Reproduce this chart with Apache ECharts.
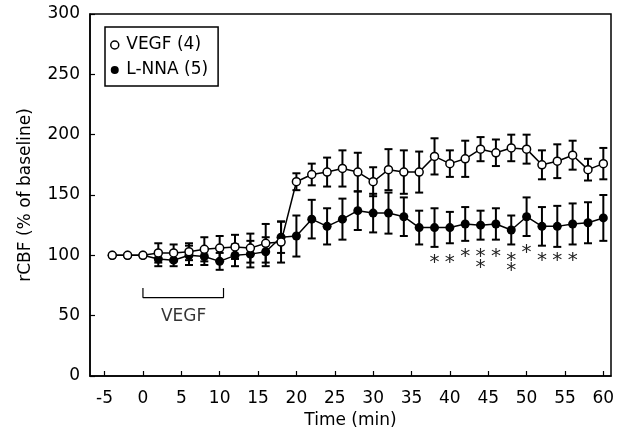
<!DOCTYPE html>
<html>
<head>
<meta charset="utf-8">
<script src="https://cdn.jsdelivr.net/npm/echarts@6/dist/echarts.min.js"></script>
<style>
  html, body { margin: 0; padding: 0; background: #fff; }
  #main { width: 624px; height: 440px; }
</style>
</head>
<body>
<div id="main"></div>
<script>
// time points (min)
const time = [-4, -2, 0, 2, 4, 6, 8, 10, 12, 14, 16, 18, 20, 22, 24, 26, 28, 30, 32, 34, 36, 38, 40, 42, 44, 46, 48, 50, 52, 54, 56, 58, 60];
// VEGF (4) - open circles
const vegfMean = [100, 100, 100, 102, 102, 103, 105, 106, 107, 106, 110, 111, 161, 167, 169, 172, 169, 161, 171, 169, 169, 182, 176, 180, 188, 185, 189, 188, 175, 178, 183, 171, 176];
const vegfErr  = [0, 0, 0, 8, 7, 7, 10, 10, 10, 12, 16, 17, 7, 9, 12, 15, 16, 12, 17, 18, 17, 15, 11, 15, 10, 11, 11, 12, 12, 14, 12, 9, 13];
// L-NNA (5) - filled circles
const nnaMean = [100, 100, 100, 97, 96, 100, 99, 95, 100, 101, 103, 115, 116, 130, 124, 130, 137, 135, 135, 132, 123, 123, 123, 126, 125, 126, 121, 132, 124, 124, 126, 127, 131];
const nnaErr  = [0, 0, 0, 6, 5, 8, 7, 7, 9, 11, 12, 13, 17, 16, 15, 17, 16, 16, 17, 16, 14, 16, 13, 14, 12, 13, 12, 16, 16, 17, 17, 17, 19];
// significance marks (time, level)
const starX = [38, 40, 42, 44, 44, 46, 48, 48, 50, 52, 54, 56];
const starY = [98, 98, 103, 103, 94, 103, 100, 91, 106, 100, 100, 100];
// VEGF infusion bracket
const bracketX = [0, 0, 10.5, 10.5];
const bracketY = [73, 65, 65, 73];

const xTicks = [-5, 0, 5, 10, 15, 20, 25, 30, 35, 40, 45, 50, 55, 60];
const FONT = 'DejaVu Sans';

const chart = echarts.init(document.getElementById('main'));

function errBars(mean, err) {
  return time.map((t, i) => [t, mean[i], err[i]]);
}

function renderErr(params, api) {
  const x = api.value(0), m = api.value(1), e = api.value(2);
  if (!e) return;
  const top = api.coord([x, m + e]);
  const bot = api.coord([x, m - e]);
  const w = 4;
  const st = { stroke: '#000', lineWidth: 2 };
  return {
    type: 'group',
    children: [
      { type: 'line', shape: { x1: top[0], y1: top[1], x2: bot[0], y2: bot[1] }, style: st },
      { type: 'line', shape: { x1: top[0] - w, y1: top[1], x2: top[0] + w, y2: top[1] }, style: st },
      { type: 'line', shape: { x1: bot[0] - w, y1: bot[1], x2: bot[0] + w, y2: bot[1] }, style: st }
    ]
  };
}

const option = {
  animation: false,
  textStyle: { fontFamily: FONT },
  grid: { left: 90, right: 13, top: 14, bottom: 64, show: true, borderColor: '#000', borderWidth: 1.5 },
  legend: {
    left: 105, top: 27,
    orient: 'vertical',
    borderColor: '#000', borderWidth: 1.5,
    padding: [9, 10, 7, 5],
    itemGap: 7,
    itemWidth: 13, itemHeight: 8,
    icon: 'circle',
    textStyle: { fontFamily: FONT, fontSize: 17, color: '#000', lineHeight: 18 },
    data: [
      { name: 'VEGF (4)', itemStyle: { color: '#fff', borderColor: '#000', borderWidth: 1.5 } },
      { name: 'L-NNA (5)', itemStyle: { color: '#000' } }
    ]
  },
  xAxis: {
    type: 'value', min: -6.9, max: 61,
    name: 'Time (min)', nameLocation: 'middle', nameGap: 36,
    nameTextStyle: { fontFamily: FONT, fontSize: 17, color: '#000' },
    axisLine: { onZero: false, lineStyle: { color: '#000', width: 1.5 } },
    axisTick: { inside: true, length: 5, customValues: xTicks, lineStyle: { color: '#000', width: 1.2 } },
    axisLabel: { customValues: xTicks, margin: 14, fontFamily: FONT, fontSize: 17, color: '#000' },
    splitLine: { show: false }
  },
  yAxis: {
    type: 'value', min: 0, max: 300, interval: 50,
    name: 'rCBF (% of baseline)', nameLocation: 'middle', nameGap: 56,
    nameTextStyle: { fontFamily: FONT, fontSize: 17, color: '#000' },
    axisLine: { show: true, onZero: false, lineStyle: { color: '#000', width: 1.5 } },
    axisTick: { show: true, inside: true, length: 5, lineStyle: { color: '#000', width: 1.2 } },
    axisLabel: { margin: 10, fontFamily: FONT, fontSize: 17, color: '#000' },
    splitLine: { show: false }
  },
  series: [
    {
      type: 'custom', name: 'nnaErr', z: 1, silent: true,
      renderItem: renderErr, data: errBars(nnaMean, nnaErr)
    },
    {
      type: 'custom', name: 'vegfErr', z: 1, silent: true,
      renderItem: renderErr, data: errBars(vegfMean, vegfErr)
    },
    {
      type: 'line', name: 'L-NNA (5)', z: 3,
      data: time.map((t, i) => [t, nnaMean[i]]),
      symbol: 'circle', symbolSize: 9,
      lineStyle: { color: '#000', width: 1.5 },
      itemStyle: { color: '#000' }
    },
    {
      type: 'line', name: 'VEGF (4)', z: 4,
      data: time.map((t, i) => [t, vegfMean[i]]),
      symbol: 'circle', symbolSize: 8,
      lineStyle: { color: '#000', width: 1.5 },
      itemStyle: { color: '#fff', borderColor: '#000', borderWidth: 1.5 }
    },
    {
      type: 'custom', name: 'stars', z: 5, silent: true,
      data: starX.map((x, i) => [x, starY[i]]),
      renderItem: function (params, api) {
        const p = api.coord([api.value(0), api.value(1)]);
        return {
          type: 'text', x: p[0], y: p[1] + 5,
          style: { text: '*', fontFamily: FONT, fontSize: 20, fill: '#222', align: 'center', verticalAlign: 'middle' }
        };
      }
    },
    {
      type: 'line', name: 'bracket', z: 2, silent: true,
      data: bracketX.map((x, i) => [x, bracketY[i]]),
      symbol: 'none',
      lineStyle: { color: '#000', width: 1.2 }
    },
    {
      type: 'scatter', name: 'bracketLabel', silent: true,
      data: [[5.3, 49]], symbolSize: 0,
      label: { show: true, position: 'inside', formatter: 'VEGF', fontFamily: FONT, fontSize: 17, color: '#000' }
    }
  ]
};

chart.setOption(option);
window.addEventListener('resize', chart.resize);
</script>
</body>
</html>
